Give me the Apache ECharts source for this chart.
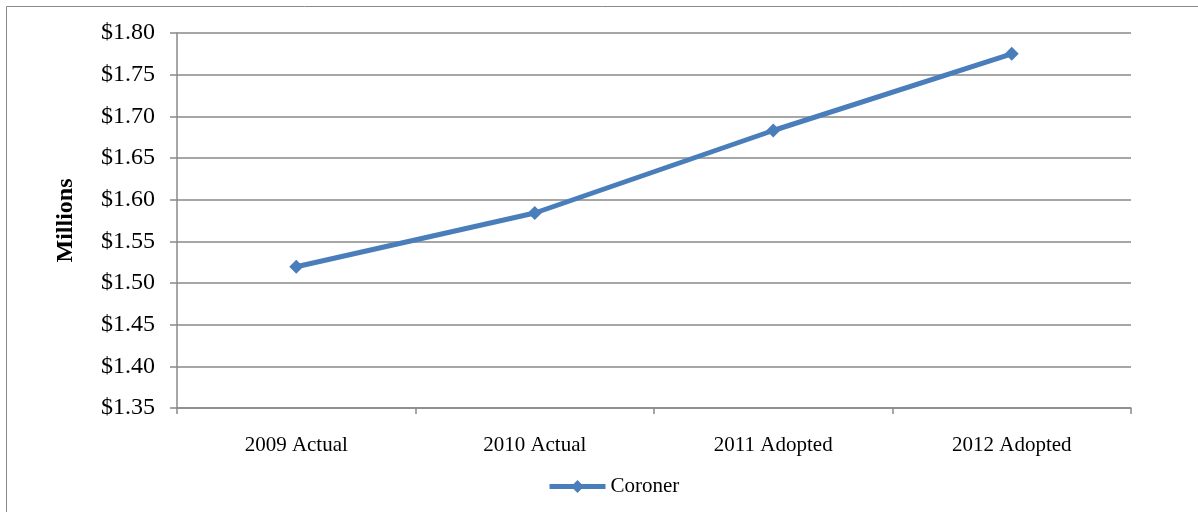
<!DOCTYPE html>
<html>
<head>
<meta charset="utf-8">
<script src="https://cdn.jsdelivr.net/npm/echarts@6/dist/echarts.min.js"></script>
<style>
  html, body { margin: 0; padding: 0; background: #fff; }
  #chart { width: 1198px; height: 512px; }
</style>
</head>
<body>
<div id="chart"></div>
<script>
// Coroner budget by year, in millions of dollars
const categories = ['2009 Actual', '2010 Actual', '2011 Adopted', '2012 Adopted'];
const coroner = [1.5195, 1.584, 1.683, 1.775];
const seriesName = 'Coroner';
const axisTitle = 'Millions';

const serif = '"Liberation Serif", "Times New Roman", serif';
const lineBlue = '#4A7EBB';
const gridGray = '#898989';

const chart = echarts.init(document.getElementById('chart'));
chart.setOption({
  animation: false,
  backgroundColor: '#fff',
  textStyle: { fontFamily: serif, color: '#000' },
  graphic: [{
    type: 'rect',
    shape: { x: 6.5, y: 6.5, width: 1220, height: 540 },
    style: { fill: 'none', stroke: gridGray, lineWidth: 1 },
    silent: true
  }],
  grid: { left: 177, right: 67, top: 33, bottom: 104 },
  legend: {
    bottom: 15,
    left: 547,
    padding: 0,
    itemWidth: 56,
    itemHeight: 16,
    itemGap: 0,
    lineStyle: { width: 5, color: lineBlue },
    itemStyle: { color: lineBlue },
    textStyle: { fontFamily: serif, fontSize: 21, color: '#000' },
    data: [seriesName]
  },
  xAxis: {
    type: 'category',
    data: categories,
    boundaryGap: true,
    axisLine: { lineStyle: { color: gridGray, width: 1.5 } },
    axisTick: { show: true, length: 6, lineStyle: { color: gridGray, width: 1.5 } },
    axisLabel: { fontFamily: serif, fontSize: 21, color: '#000', margin: 27 },
    splitLine: { show: false }
  },
  yAxis: {
    type: 'value',
    min: 1.35,
    max: 1.80,
    interval: 0.05,
    name: axisTitle,
    nameLocation: 'middle',
    nameRotate: 90,
    nameGap: 99,
    nameTextStyle: { fontFamily: serif, fontSize: 24, fontWeight: 'bold', color: '#000' },
    axisLine: { show: true, lineStyle: { color: gridGray, width: 1.5 } },
    axisTick: { show: true, length: 7, lineStyle: { color: gridGray, width: 1.5 } },
    axisLabel: {
      fontFamily: serif, fontSize: 24, color: '#000', margin: 22,
      formatter: v => '$' + v.toFixed(2)
    },
    splitLine: { show: true, lineStyle: { color: gridGray, width: 1.5 } }
  },
  series: [{
    name: seriesName,
    type: 'line',
    data: coroner,
    symbol: 'diamond',
    symbolSize: 14,
    lineStyle: { color: lineBlue, width: 5 },
    itemStyle: { color: lineBlue },
    emphasis: { disabled: true }
  }]
});
</script>
</body>
</html>
